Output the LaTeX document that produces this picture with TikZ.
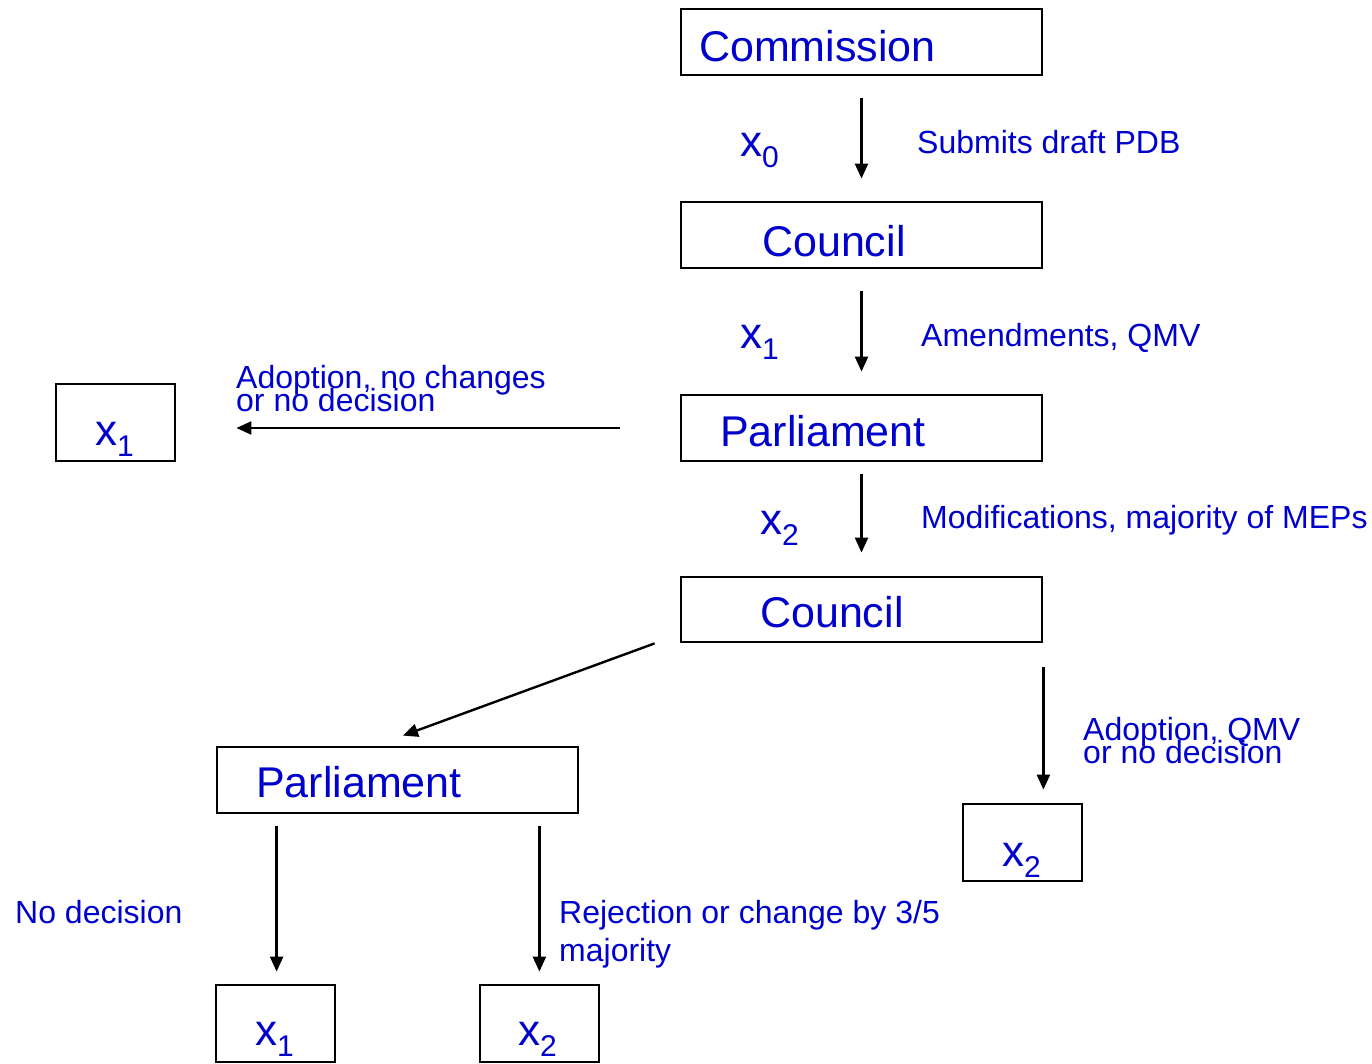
\documentclass[tikz,border=0pt]{standalone}
\usepackage{fontspec}
\setmainfont{Liberation Sans}
\usetikzlibrary{arrows.meta,calc}
\definecolor{txtblue}{RGB}{0,0,204}
\newcommand\xsub[1]{x\raisebox{-11pt}{\fontsize{30}{30}\selectfont #1}}
\begin{document}
\begin{tikzpicture}[x=1pt,y=-1pt,
  box/.style={draw,line width=2.8pt,inner sep=0pt,minimum width=361pt,minimum height=66pt},
  xbox/.style={draw,line width=2.8pt,inner sep=0pt,minimum width=119pt,minimum height=77pt},
  big/.style={text=txtblue,inner sep=0pt,anchor=base west,font=\fontsize{43}{43}\selectfont},
  xlbl/.style={text=txtblue,inner sep=0pt,anchor=base west,font=\fontsize{44}{44}\selectfont},
  lbl/.style={text=txtblue,inner sep=0pt,anchor=base west,font=\fontsize{32}{32}\selectfont},
  arr/.style={line width=2.4pt,-{Triangle[length=15pt,width=13pt]}}]
\useasboundingbox (0,0) rectangle (1372,1064);
% boxes
\node[box] (comm) at (861.5,42) {};
\node[box] (coun1) at (861.5,235) {};
\node[box] (parl1) at (861.5,428) {};
\node[box,minimum height=65pt] (coun2) at (861.5,609.5) {};
\node[box] (parl2) at (397.5,780) {};
\node[xbox] (xl) at (115.5,422.5) {};
\node[xbox] (xr) at (1022.5,842.5) {};
\node[xbox] (xb1) at (275.5,1023.5) {};
\node[xbox] (xb2) at (539.5,1023.5) {};
% box texts
\node[big] (commt) at (699,62) {Commission};
\node[big] (coun1t) at (762,257) {Council};
\node[big] (parl1t) at (720,446) {Parliament};
\node[big] (coun2t) at (760,627) {Council};
\node[big] (parl2t) at (256,797) {Parliament};
\node[xlbl] (xlt) at (95,445) {\xsub{1}};
\node[xlbl] (xrt) at (1002,866) {\xsub{2}};
\node[xlbl] (xb1t) at (255,1045) {\xsub{1}};
\node[xlbl] (xb2t) at (518,1045) {\xsub{2}};
% arrow labels
\node[xlbl] (x0l) at (740,157) {\xsub{0}};
\node[xlbl] (x1l) at (740,348) {\xsub{1}};
\node[xlbl] (x2l) at (760,534) {\xsub{2}};
\node[lbl] (l1) at (917,154) {Submits draft PDB};
\node[lbl] (l2) at (921,346) {Amendments, QMV};
\node[lbl] (l3) at (921,528) {Modifications, majority of MEPs};
\node[lbl] (l4a) at (236,388) {Adoption, no changes};
\node[lbl] (l4b) at (236,411) {or no decision};
\node[lbl] (l5a) at (1083,740) {Adoption, QMV};
\node[lbl] (l5b) at (1083,763) {or no decision};
\node[lbl] (l6) at (15,923) {No decision};
\node[lbl] (l7a) at (559,923) {Rejection or change by 3/5};
\node[lbl] (l7b) at (559,961) {majority};
% connectors
\draw[arr,shorten <=22pt,shorten >=22pt] (comm.south) -- (coun1.north);
\draw[arr,shorten <=22pt,shorten >=22pt] (coun1.south) -- (parl1.north);
\draw[arr,shorten <=12pt,shorten >=23pt] (parl1.south) -- (coun2.north);
\draw[arr,shorten <=60pt,shorten >=60pt] (parl1.west) -- (parl1.west -| xl.east);
\draw[arr] ($(coun2.south west)+(-25,0)$) -- ($(parl2.north)+(5.5,-10)$);
\draw[arr] ($(coun2.south east)+(0,24)$) -- ($(coun2.south east |- xr.north)+(0,-13)$);
\draw[arr] ($(parl2.south west)+(61,12)$) -- ($(parl2.south west |- xb1.north)+(61,-12)$);
\draw[arr] ($(parl2.south east)+(-40,12)$) -- ($(parl2.south east |- xb2.north)+(-40,-12)$);
\end{tikzpicture}
\end{document}
